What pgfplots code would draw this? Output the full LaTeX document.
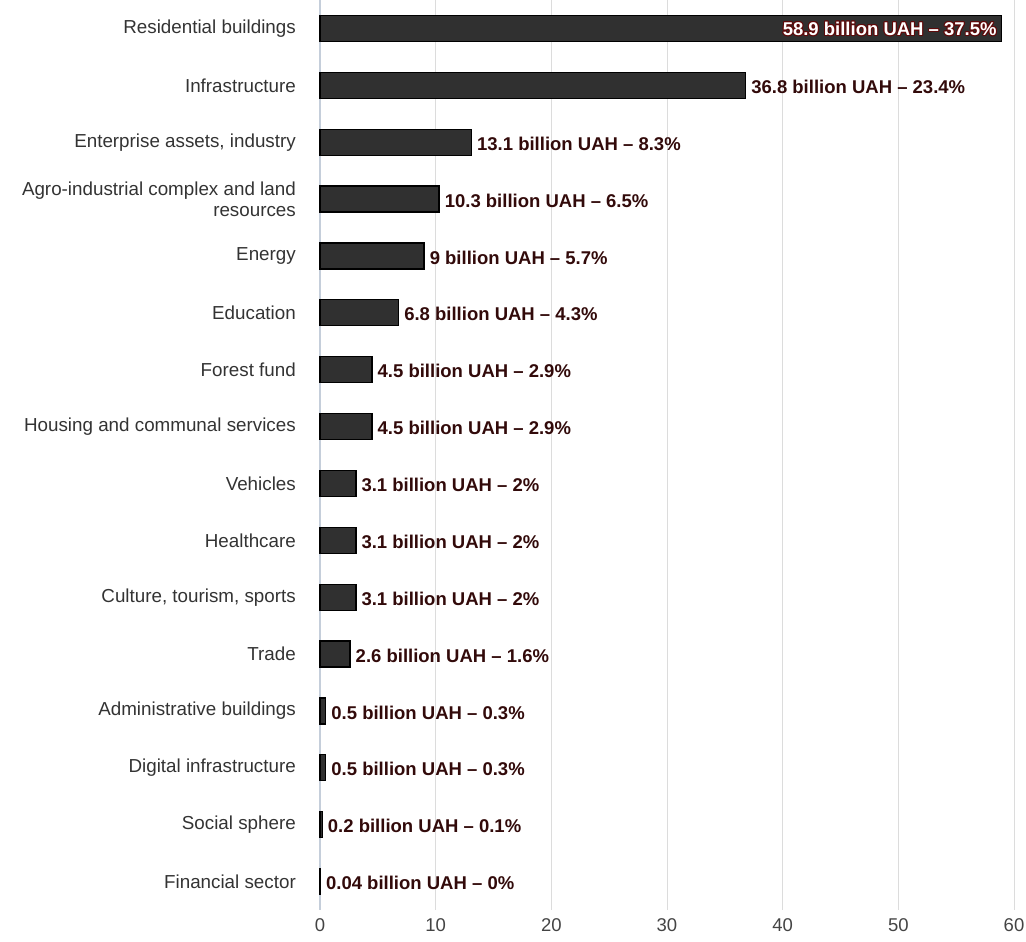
\documentclass[border=0pt]{standalone}
\usepackage{pgfplots}
\pgfplotsset{compat=1.18}
\usepackage{pgfplotstable}
\usepackage{fontspec}
\setmainfont{Liberation Sans}
\usepackage[copies]{contour}
\contourlength{1pt}
\definecolor{barfill}{HTML}{303030}
\definecolor{valred}{RGB}{50,10,10}
\definecolor{catgray}{HTML}{333333}
\definecolor{tickgray}{HTML}{444444}
\definecolor{gridgray}{HTML}{DCDCDC}
\definecolor{axisblue}{HTML}{C5CEDA}
\definecolor{outred}{RGB}{95,10,10}

\pgfplotstableread[col sep=comma]{
y,x,label
1,36.8,36.8 billion UAH – 23.4\%
2,13.1,13.1 billion UAH – 8.3\%
3,10.3,10.3 billion UAH – 6.5\%
4,9,9 billion UAH – 5.7\%
5,6.8,6.8 billion UAH – 4.3\%
6,4.5,4.5 billion UAH – 2.9\%
7,4.5,4.5 billion UAH – 2.9\%
8,3.1,3.1 billion UAH – 2\%
9,3.1,3.1 billion UAH – 2\%
10,3.1,3.1 billion UAH – 2\%
11,2.6,2.6 billion UAH – 1.6\%
12,0.5,0.5 billion UAH – 0.3\%
13,0.5,0.5 billion UAH – 0.3\%
14,0.2,0.2 billion UAH – 0.1\%
15,0.04,0.04 billion UAH – 0\%
}\datatable

\begin{document}
\begin{tikzpicture}
\path[use as bounding box] (0,0) rectangle (1026pt,942pt);
\begin{axis}[
  at={(320pt,32pt)}, anchor=south west,
  scale only axis, width=694pt, height=910pt,
  xmin=0, xmax=60, ymin=-0.5, ymax=15.5, y dir=reverse,
  axis lines*=left,
  x axis line style={draw=none},
  y axis line style={draw=axisblue, line width=1.2pt, -},
  xtick={0,10,...,60},
  ytick={0,...,15},
  yticklabels={Residential buildings, Infrastructure, {Enterprise assets, industry}, {Agro-industrial complex and land\\resources}, Energy, Education, Forest fund, Housing and communal services, Vehicles, Healthcare, {Culture, tourism, sports}, Trade, Administrative buildings, Digital infrastructure, Social sphere, Financial sector},
  major tick length=0pt,
  xmajorgrids, grid style={draw=gridgray, line width=1pt},
  /pgf/number format/assume math mode=true,
  xticklabel style={font=\fontsize{18.5}{18.5}\selectfont, text=tickgray, inner sep=0pt, yshift=-8pt},
  yticklabel style={font=\fontsize{18.8}{21}\selectfont, text=catgray, align=right, inner sep=0pt, xshift=-24pt},
  clip=false,
]
\addplot[xbar, bar shift=0pt, bar width=26pt, fill=barfill, draw=black, line width=1.3pt,
  nodes near coords={\contour{outred}{58.9 billion UAH – 37.5\%}},
  every node near coord/.append style={anchor=east, xshift=-4pt, yshift=-1pt, text=white, inner sep=0pt, font=\fontsize{18.5}{20}\selectfont\bfseries}]
  coordinates {(58.9,0)};
\addplot[xbar, bar shift=0pt, bar width=26pt, fill=barfill, draw=black, line width=1.3pt,
  nodes near coords, point meta=explicit symbolic,
  every node near coord/.append style={anchor=west, xshift=5pt, yshift=-1.5pt, text=valred, inner sep=0pt, font=\fontsize{18.5}{20}\selectfont\bfseries}]
  table[x=x, y=y, meta=label] {\datatable};
\end{axis}
\end{tikzpicture}
\end{document}
